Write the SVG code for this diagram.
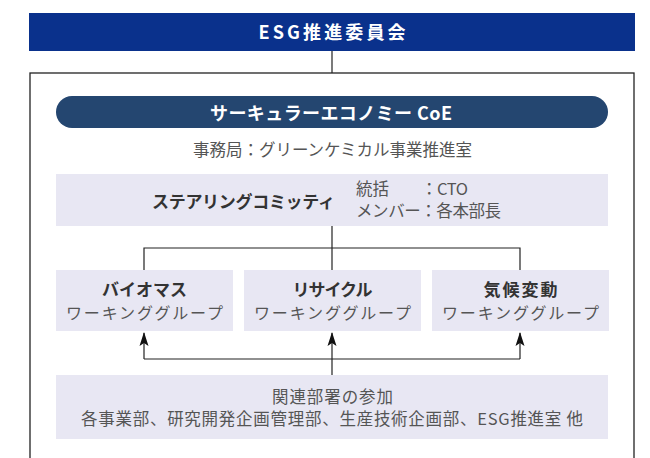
<svg xmlns="http://www.w3.org/2000/svg" width="650" height="458" viewBox="0 0 650 458">
<style>
text{font-family:"Noto Sans CJK JP","Noto Sans",sans-serif;text-anchor:middle}
.w{fill:#ffffff;font-size:18px;font-weight:bold}
.t{fill:#333333;font-size:17px;font-weight:bold}
.g{fill:#555555;font-size:16.5px}
.s{fill:#555555;font-size:16px}
.box{fill:#e8e7f3}
.ln{fill:none;stroke:#222222;stroke-width:1.2}
</style>
<defs>
<marker id="ah" viewBox="0 0 14 10" refX="13" refY="5" markerWidth="14" markerHeight="10" markerUnits="userSpaceOnUse" orient="auto">
<path d="M14,5 L0,0.5 L3,5 L0,9.5 Z" fill="#111111"/>
</marker>
</defs>
<rect x="30" y="73" width="604" height="400" fill="none" stroke="#222222" stroke-width="1.3"/>
<g id="esg">
<rect x="29" y="13" width="606" height="38" fill="#0a318c"/>
<text class="w" x="332" y="39" textLength="147">ESG推進委員会</text>
</g>
<g id="coe">
<rect x="56" y="96" width="552" height="32" rx="16" fill="#244670"/>
<text class="w" x="331" y="120" textLength="242">サーキュラーエコノミー CoE</text>
<text class="g" x="332.5" y="156" textLength="279">事務局：グリーンケミカル事業推進室</text>
</g>
<g id="steering">
<rect class="box" x="56" y="174" width="552" height="52"/>
<text class="t" x="243.5" y="208" textLength="183">ステアリングコミッティ</text>
<text class="g" x="356" y="195" style="text-anchor:start">統括</text>
<text class="g" x="421" y="195" style="text-anchor:start" textLength="47">：CTO</text>
<text class="g" x="356" y="217" style="text-anchor:start" textLength="145">メンバー：各本部長</text>
</g>
<g id="wg-biomass">
<rect class="box" x="56" y="270" width="177" height="61"/>
<text class="t" x="144.5" y="296" textLength="85">バイオマス</text>
<text class="s" x="144.5" y="319" textLength="157">ワーキンググループ</text>
</g>
<g id="wg-recycle">
<rect class="box" x="244" y="270" width="177" height="61"/>
<text class="t" x="332.5" y="296" textLength="80">リサイクル</text>
<text class="s" x="332.5" y="319" textLength="157">ワーキンググループ</text>
</g>
<g id="wg-climate">
<rect class="box" x="432" y="270" width="177" height="61"/>
<text class="t" x="520.5" y="296" textLength="74">気候変動</text>
<text class="s" x="520.5" y="319" textLength="157">ワーキンググループ</text>
</g>
<g id="depts">
<rect class="box" x="56" y="375" width="552" height="64"/>
<text class="g" x="332.5" y="403" textLength="121">関連部署の参加</text>
<text class="g" x="332" y="425" textLength="502">各事業部、研究開発企画管理部、生産技術企画部、ESG推進室 他</text>
</g>
<g id="connectors">
<line class="ln" x1="332" y1="51" x2="332" y2="73"/>
<line class="ln" x1="332" y1="226" x2="332" y2="270"/>
<polyline class="ln" points="144,270 144,248 520,248 520,270"/>
<line class="ln" x1="332" y1="375" x2="332" y2="333" marker-end="url(#ah)"/>
<line class="ln" x1="144" y1="359" x2="520" y2="359"/>
<line class="ln" x1="144" y1="359" x2="144" y2="333" marker-end="url(#ah)"/>
<line class="ln" x1="520" y1="359" x2="520" y2="333" marker-end="url(#ah)"/>
</g>
</svg>
